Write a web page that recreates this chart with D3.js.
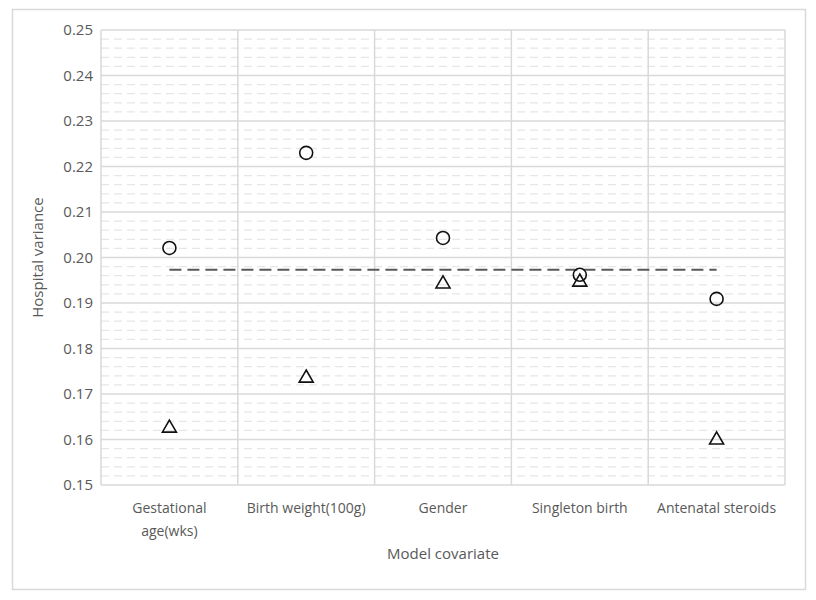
<!DOCTYPE html>
<html>
<head>
<meta charset="utf-8">
<script src="https://cdn.jsdelivr.net/npm/d3@7"></script>
<style>
  body { margin: 0; background: #fff; }
  text { font-family: "Open Sans", "Liberation Sans", sans-serif; fill: #595959; }
</style>
</head>
<body>
<svg id="chart" width="816" height="600"></svg>
<script>
// categories on the x axis (label lines)
const categories = ["Gestational age(wks)", "Birth weight(100g)", "Gender", "Singleton birth", "Antenatal steroids"];
const categoryLines = [["Gestational", "age(wks)"], ["Birth weight(100g)"], ["Gender"], ["Singleton birth"], ["Antenatal steroids"]];

// series
const circleValues = [0.2021, 0.2230, 0.2043, 0.1962, 0.1909];
const triangleValues = [0.1625, 0.1735, 0.1942, 0.1946, 0.1599];
const referenceValue = 0.1973;

const yTicks = [0.15, 0.16, 0.17, 0.18, 0.19, 0.20, 0.21, 0.22, 0.23, 0.24, 0.25];

let svg = d3.select("#chart");

// outer frame
svg.append("rect")
  .attr("x", 12.5).attr("y", 9.5)
  .attr("width", 793).attr("height", 580)
  .attr("fill", "#fff")
  .attr("stroke", "#d9d9d9")
  .attr("stroke-width", 1.5);

let plotLeft = 101, plotRight = 785, plotTop = 30, plotBottom = 485;

let x = d3.scaleBand()
  .domain(categories)
  .range([plotLeft, plotRight]);

let y = d3.scaleLinear()
  .domain([0.15, 0.25])
  .range([plotBottom, plotTop]);

let grid = svg.append("g");

// minor dashed gridlines
let minor = d3.range(0, 50).map(i => 0.15 + i * 0.002).filter((v, i) => i % 5 != 0);
grid.selectAll(".minor")
  .data(minor)
  .enter()
  .append("line")
  .attr("x1", plotLeft).attr("x2", plotRight)
  .attr("y1", d => y(d)).attr("y2", d => y(d))
  .attr("stroke", "#e6e6e6")
  .attr("stroke-width", 1.2)
  .attr("stroke-dasharray", "8,5");

// major gridlines
grid.selectAll(".major")
  .data(yTicks)
  .enter()
  .append("line")
  .attr("x1", plotLeft).attr("x2", plotRight)
  .attr("y1", d => y(d)).attr("y2", d => y(d))
  .attr("stroke", "#d9d9d9")
  .attr("stroke-width", 1.5);

// vertical category separators
let bounds = categories.map(c => x(c)).concat([plotRight]);
grid.selectAll(".vert")
  .data(bounds)
  .enter()
  .append("line")
  .attr("x1", d => d).attr("x2", d => d)
  .attr("y1", plotTop).attr("y2", plotBottom)
  .attr("stroke", "#d9d9d9")
  .attr("stroke-width", 1.5);

// y axis labels
let yAxis = svg.append("g")
  .attr("transform", "translate(" + plotLeft + ",0)")
  .call(d3.axisLeft(y).tickValues(yTicks).tickFormat(d3.format(".2f")).tickSize(0).tickPadding(8));
yAxis.select(".domain").remove();
yAxis.selectAll("text")
  .style("font-size", "15px")
  .attr("fill", "#595959")
  .style("font-family", "'Open Sans', sans-serif");

// category labels
let xl = svg.append("g");
categories.forEach((c, i) => {
  let t = xl.append("text")
    .attr("text-anchor", "middle")
    .attr("x", x(c) + x.bandwidth() / 2)
    .attr("y", 513)
    .style("font-size", "14px");
  categoryLines[i].forEach((line, j) => {
    t.append("tspan")
      .attr("x", x(c) + x.bandwidth() / 2)
      .attr("dy", j == 0 ? 0 : 23)
      .text(line);
  });
});

// axis titles
svg.append("text")
  .attr("text-anchor", "middle")
  .attr("x", (plotLeft + plotRight) / 2)
  .attr("y", 559)
  .style("font-size", "15px")
  .text("Model covariate");

svg.append("text")
  .attr("text-anchor", "middle")
  .attr("transform", "translate(43," + ((plotTop + plotBottom) / 2) + ") rotate(-90)")
  .style("font-size", "15px")
  .text("Hospital variance");

let cx = c => x(c) + x.bandwidth() / 2;

// dashed reference line across category centres
let line = d3.line()
  .x(d => cx(d))
  .y(() => y(referenceValue));
svg.append("path")
  .attr("d", line(categories))
  .attr("fill", "none")
  .attr("stroke", "#595959")
  .attr("stroke-width", 2)
  .attr("stroke-dasharray", "12,6");

// circle markers
svg.selectAll(".circ")
  .data(circleValues)
  .enter()
  .append("circle")
  .attr("cx", (d, i) => cx(categories[i]))
  .attr("cy", d => y(d))
  .attr("r", 6.5)
  .attr("fill", "none")
  .attr("stroke", "#111")
  .attr("stroke-width", 1.6);

// triangle markers
let tri = d3.symbol().type(d3.symbolTriangle).size(85);
svg.selectAll(".tri")
  .data(triangleValues)
  .enter()
  .append("path")
  .attr("d", tri)
  .attr("transform", (d, i) => "translate(" + cx(categories[i]) + "," + y(d) + ")")
  .attr("fill", "none")
  .attr("stroke", "#111")
  .attr("stroke-width", 1.6);
</script>
</body>
</html>
